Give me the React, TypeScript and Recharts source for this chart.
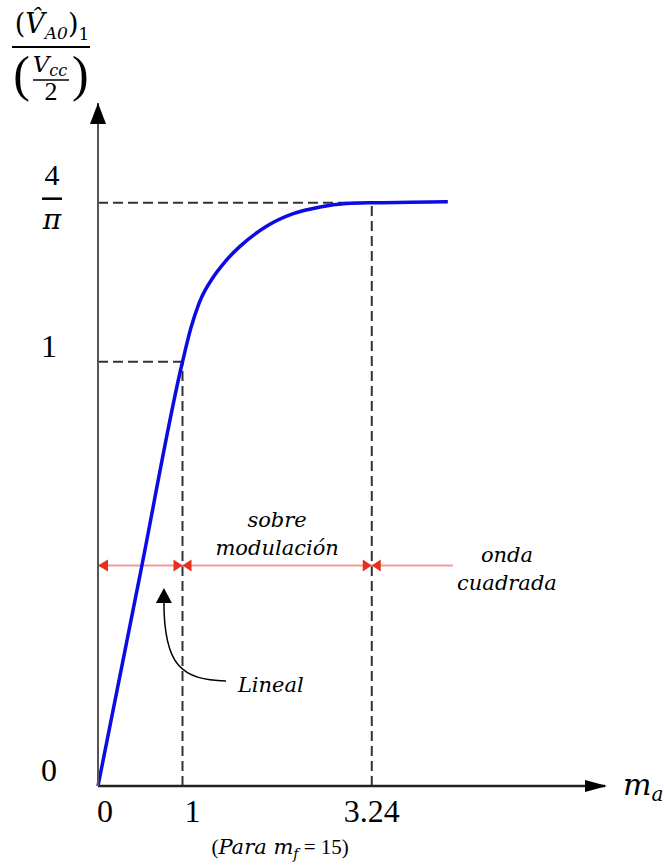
import { LineChart, Line, XAxis, YAxis, ReferenceLine, ReferenceDot } from "recharts";

// m_a (modulation index) vs normalised fundamental amplitude
const maValues = [0, 0.5, 1, 1.1, 1.2, 1.365, 1.5, 1.68, 2.0, 2.31, 2.63, 2.94, 3.24, 3.7, 4.14];
const gainValues = [0, 0.5, 1, 1.08, 1.14, 1.2, 1.235, 1.272, 1.32, 1.349, 1.365, 1.373, 1.375, 1.376, 1.377];

// the figure is schematic: 4/π sits at this height on the drawn y scale
const PLATEAU = 1.375;
const SATURATION_MA = 3.24;

const xTicks = [0, 1, SATURATION_MA];
const xTickLabels = ["0", "1", "3.24"];
const yTicks = [0, 1, PLATEAU];
const yTickLabels = ["0", "1", "4/π"];

// region marker line (lineal | sobre modulación | onda cuadrada)
const regionBounds = [0, 1, SATURATION_MA];
const regionLevel = 0.52;
const regionEnd = 4.2;
const regionNames = [
  ["sobre", "modulación"],
  ["onda", "cuadrada"],
];
const regionLabelX = [(1 + SATURATION_MA) / 2, 4.84];
const pointerLabel = "Lineal";
const pointerTarget = { x: 0.78, y: 0.467 };

const X_MAX = 6;
const Y_MAX = 1.61;

const data = maValues.map((ma, i) => ({ ma, gain: gainValues[i] }));

const SERIF = "'Liberation Serif', serif";
const MATH_IT = "'DejaVu Serif', serif";
const BLUE = "#0b0be6";
const DASH = "#333";
const RED_LINE = "#f29a9a";
const RED_HEAD = "#e8301f";

const xTickDx: Record<string, number> = { "0": 7, "1": 10, "3.24": 0 };

function XTick(props: any) {
  const { x, y, payload } = props;
  const i = xTicks.indexOf(payload.value);
  const label = xTickLabels[i];
  return (
    <text x={x + (xTickDx[label] ?? 0)} y={y + 36} textAnchor="middle" fontSize={32} fontFamily={SERIF} fill="#000">
      {label}
    </text>
  );
}

function YTick(props: any) {
  const { x, y, payload } = props;
  const i = yTicks.indexOf(payload.value);
  const label = yTickLabels[i];
  if (label === "4/π") {
    return (
      <g>
        <text x={x - 46} y={y - 18} textAnchor="middle" fontSize={30} fontFamily={SERIF} fill="#000">4</text>
        <line x1={x - 56} x2={x - 36} y1={y - 4} y2={y - 4} stroke="#000" strokeWidth={2.5} />
        <text x={x - 46} y={y + 26} textAnchor="middle" fontSize={28} fontStyle="italic" fontFamily={MATH_IT} fill="#000">π</text>
      </g>
    );
  }
  return (
    <text x={x - 49} y={y - 5} textAnchor="middle" fontSize={32} fontFamily={SERIF} fill="#000">
      {label}
    </text>
  );
}

// y-axis arrow head + quantity title above it
function YArrow({ cx, cy }: any) {
  const tx = cx - 47;
  const top = cy - 103;
  return (
    <g>
      <polygon points={`${cx},${cy} ${cx - 8},${cy + 21} ${cx + 8},${cy + 21}`} fill="#000" />
      <text x={tx + 1} y={top + 33} textAnchor="middle" fontSize={27} fontFamily={MATH_IT} fill="#000">
        (<tspan fontStyle="italic">{"V\u0302"}</tspan>
        <tspan fontStyle="italic" fontSize={17} dy={6}>A0</tspan>
        <tspan dy={-6}>)</tspan>
        <tspan fontSize={17} dy={7}>1</tspan>
      </text>
      <line x1={tx - 39} x2={tx + 39} y1={top + 47} y2={top + 47} stroke="#000" strokeWidth={2} />
      <text x={tx - 21} y={top + 91} textAnchor="end" fontSize={50} fontFamily={SERIF} fill="#000">(</text>
      <text x={tx + 21} y={top + 91} fontSize={50} fontFamily={SERIF} fill="#000">)</text>
      <text x={tx - 1} y={top + 72} textAnchor="middle" fontSize={23} fontStyle="italic" fontFamily={MATH_IT} fill="#000">
        V<tspan fontSize={16} dy={4}>cc</tspan>
      </text>
      <line x1={tx - 18} x2={tx + 18} y1={top + 80} y2={top + 80} stroke="#000" strokeWidth={1.5} />
      <text x={tx} y={top + 100} textAnchor="middle" fontSize={26} fontFamily={SERIF} fill="#000">2</text>
    </g>
  );
}

// x-axis arrow head + m_a
function XArrow({ cx, cy }: any) {
  return (
    <g>
      <polygon points={`${cx + 2},${cy} ${cx - 20},${cy - 6} ${cx - 20},${cy + 6}`} fill="#000" />
      <text x={cx + 18} y={cy + 9} fontSize={30} fontStyle="italic" fontFamily={MATH_IT} fill="#000">
        m<tspan fontSize={20} dy={6}>a</tspan>
      </text>
    </g>
  );
}

function ParaNote({ cx, cy }: any) {
  return (
    <text x={cx + 3} y={cy + 68} textAnchor="middle" fontSize={21} fontFamily={SERIF} fill="#000">
      (<tspan fontStyle="italic" fontFamily={MATH_IT}>Para m</tspan>
      <tspan fontStyle="italic" fontFamily={MATH_IT} fontSize={14} dy={5}>f</tspan>
      <tspan dy={-5}> = 15)</tspan>
    </text>
  );
}

function RegionHead(kind: "start" | "both") {
  return ({ cx, cy }: any) =>
    kind === "start" ? (
      <polygon points={`${cx},${cy} ${cx + 10},${cy - 6} ${cx + 10},${cy + 6}`} fill={RED_HEAD} />
    ) : (
      <g>
        <polygon points={`${cx},${cy} ${cx - 9},${cy - 6} ${cx - 9},${cy + 6}`} fill={RED_HEAD} />
        <polygon points={`${cx},${cy} ${cx + 9},${cy - 6} ${cx + 9},${cy + 6}`} fill={RED_HEAD} />
      </g>
    );
}

function RegionText(lines: string[], first: number) {
  return ({ cx, cy }: any) => (
    <g fontSize={21} fontStyle="italic" fontFamily={MATH_IT} fill="#000">
      <text x={cx} y={cy + first} textAnchor="middle">{lines[0]}</text>
      <text x={cx} y={cy + first + 28} textAnchor="middle">{lines[1]}</text>
    </g>
  );
}

function Pointer({ cx, cy }: any) {
  return (
    <g>
      <polygon points={`${cx},${cy} ${cx - 8},${cy + 15} ${cx + 8},${cy + 15}`} fill="#000" />
      <path d={`M ${cx} ${cy + 14} C ${cx} ${cy + 78}, ${cx + 18} ${cy + 92}, ${cx + 62} ${cy + 93}`} fill="none" stroke="#000" strokeWidth={1.5} />
      <text x={cx + 74} y={cy + 104} fontSize={21} fontStyle="italic" fontFamily={MATH_IT} fill="#000">{pointerLabel}</text>
    </g>
  );
}

export default function App() {
  return (
    <div style={{ position: "absolute", left: 0, top: 0, width: 664, height: 865, background: "#fff" }}>
      <LineChart width={664} height={865} data={data} margin={{ top: 103, right: 59, bottom: 0, left: 0 }}>
        <XAxis
          type="number"
          dataKey="ma"
          domain={[0, X_MAX]}
          ticks={xTicks}
          height={79}
          tickSize={0}
          tickMargin={0}
          tickLine={false}
          axisLine={{ stroke: "#222", strokeWidth: 2.5 }}
          tick={<XTick />}
        />
        <YAxis
          type="number"
          domain={[0, Y_MAX]}
          ticks={yTicks}
          width={98}
          tickSize={0}
          tickMargin={0}
          tickLine={false}
          axisLine={{ stroke: "#555", strokeWidth: 2 }}
          tick={<YTick />}
        />

        <ReferenceLine segment={[{ x: 0, y: 1 }, { x: 1, y: 1 }]} stroke={DASH} strokeWidth={2} strokeDasharray="10 5" ifOverflow="visible" />
        <ReferenceLine segment={[{ x: 1, y: 0 }, { x: 1, y: 1 }]} stroke={DASH} strokeWidth={2} strokeDasharray="10 5" ifOverflow="visible" />
        <ReferenceLine segment={[{ x: 0, y: PLATEAU }, { x: SATURATION_MA, y: PLATEAU }]} stroke={DASH} strokeWidth={2} strokeDasharray="10 5" ifOverflow="visible" />
        <ReferenceLine segment={[{ x: SATURATION_MA, y: 0 }, { x: SATURATION_MA, y: PLATEAU }]} stroke={DASH} strokeWidth={2} strokeDasharray="10 5" ifOverflow="visible" />

        <ReferenceLine segment={[{ x: 0, y: regionLevel }, { x: regionEnd, y: regionLevel }]} stroke={RED_LINE} strokeWidth={2} ifOverflow="visible" />
        {regionBounds.map((b, i) => (
          <ReferenceDot key={`rb${i}`} x={b} y={regionLevel} r={0} ifOverflow="visible" shape={RegionHead(i === 0 ? "start" : "both")} />
        ))}
        {regionNames.map((lines, i) => (
          <ReferenceDot key={`rn${i}`} x={regionLabelX[i]} y={regionLevel} r={0} ifOverflow="visible" shape={RegionText(lines, i === 0 ? -38 : -3)} />
        ))}
        <ReferenceDot x={pointerTarget.x} y={pointerTarget.y} r={0} ifOverflow="visible" shape={Pointer} />

        <ReferenceDot x={0} y={Y_MAX} r={0} ifOverflow="visible" shape={YArrow} />
        <ReferenceDot x={X_MAX} y={0} r={0} ifOverflow="visible" shape={XArrow} />
        <ReferenceDot x={(1 + SATURATION_MA) / 2} y={0} r={0} ifOverflow="visible" shape={ParaNote} />

        <Line
          type="monotone"
          dataKey="gain"
          stroke={BLUE}
          strokeWidth={3.5}
          dot={false}
          activeDot={false}
          isAnimationActive={false}
        />
      </LineChart>
    </div>
  );
}
